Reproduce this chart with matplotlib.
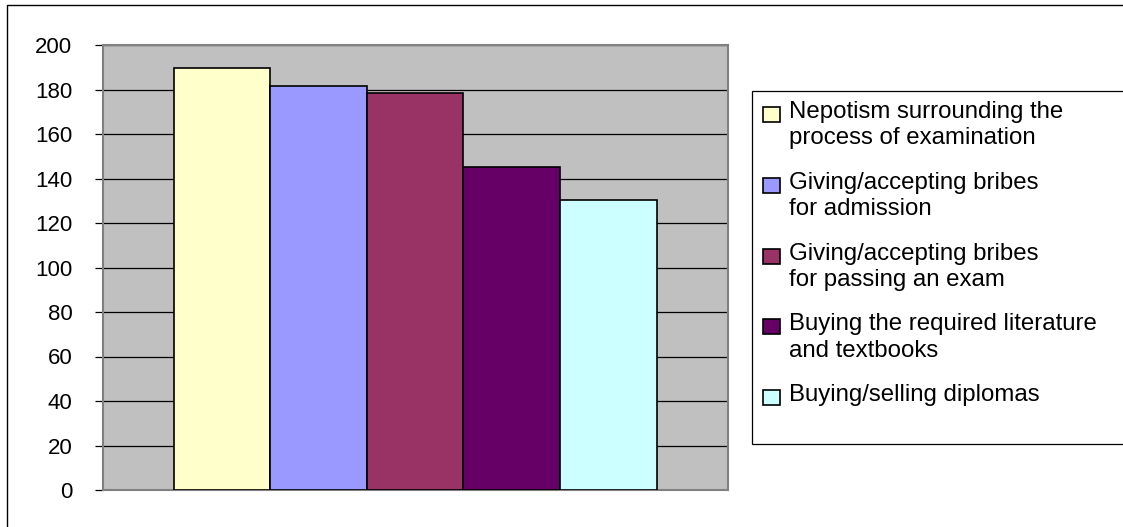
import matplotlib.pyplot as plt
from matplotlib.patches import Rectangle

plt.rcParams["font.family"] = ["Liberation Sans", "DejaVu Sans"]

# data
labels = [
    "Nepotism surrounding the\nprocess of examination",
    "Giving/accepting bribes\nfor admission",
    "Giving/accepting bribes\nfor passing an exam",
    "Buying the required literature\nand textbooks",
    "Buying/selling diplomas",
]
values = [189.5, 181.7, 178.3, 145.0, 130.3]
colors = ["#FFFFCC", "#9999FF", "#993366", "#660066", "#CCFFFF"]
yticks = list(range(0, 201, 20))

W, H = 1123, 527
fig = plt.figure(figsize=(W / 100, H / 100), dpi=100)


def fx(px):
    return px / W


def fy(py):
    return 1 - py / H


# plot area in pixels: x 103..728, y 45..490
ax = fig.add_axes([fx(103), fy(490), fx(728) - fx(103), fy(45) - fy(490)])
ax.set_facecolor("#C0C0C0")

xs = list(range(len(values)))
ax.bar(xs, values, width=1.0, color=colors, edgecolor="black", linewidth=1.2, zorder=3)

ax.set_xlim(-1.23, 5.24)
ax.set_ylim(0, 200)
ax.set_yticks(yticks)
ax.set_xticks([])
ax.yaxis.grid(True, color="black", linewidth=0.9)
ax.set_axisbelow(True)
ax.tick_params(axis="y", direction="out", length=6, width=0.9, pad=16, labelsize=16)
for sp in ax.spines.values():
    sp.set_color("#808080")
    sp.set_linewidth(1.5)

# outer chart frame (only top and left fall inside the image)
fig.patches.append(Rectangle((fx(7), fy(540)), 1.2, fy(5) - fy(540), transform=fig.transFigure,
                             fill=False, edgecolor="black", linewidth=1.0))

# legend box, cut off on the right like the reference
fig.patches.append(Rectangle((fx(752), fy(444)), 0.5, fy(91) - fy(444), transform=fig.transFigure,
                             facecolor="white", edgecolor="black", linewidth=0.9))

top = 103
step = 70.8
for i, (lab, c) in enumerate(zip(labels, colors)):
    y0 = top + i * step
    fig.patches.append(Rectangle((fx(763), fy(y0 + 19)), fx(17), fy(0) - fy(15), transform=fig.transFigure,
                                 facecolor=c, edgecolor="black", linewidth=1.2))
    fig.text(fx(789), fy(y0 - 2), lab, fontsize=17.3, va="top", ha="left", linespacing=1.25)

fig.savefig("out.png", dpi=100)
